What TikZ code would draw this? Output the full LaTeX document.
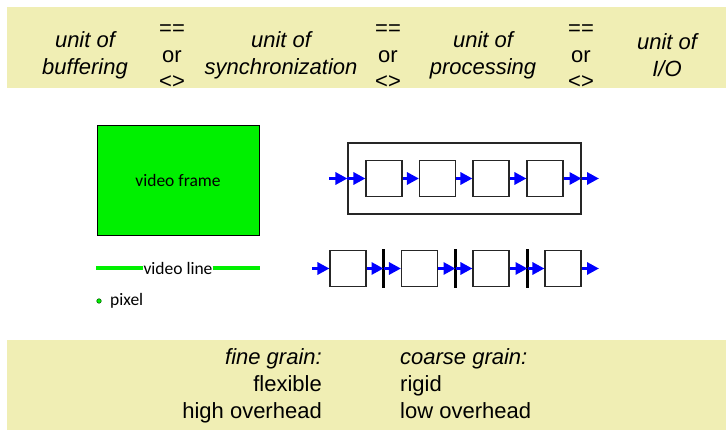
\documentclass[tikz,border=0pt]{standalone}
\usepackage{fontspec}
\setmainfont{Liberation Sans}
\newfontfamily\calfont{Carlito}
\usetikzlibrary{arrows.meta}
\definecolor{band}{RGB}{240,238,180}
\definecolor{vgreen}{RGB}{0,240,0}
\tikzset{
  bandtext/.style={font=\fontsize{22}{27}\selectfont\itshape, align=center, inner sep=0pt},
  optext/.style={font=\fontsize{22}{26.5}\selectfont, align=center, inner sep=0pt},
  lowtext/.style={font=\fontsize{22}{26}\selectfont, inner sep=0pt},
  smalltext/.style={font=\calfont\fontsize{17.5}{20}\selectfont, inner sep=0pt},
  sbox/.style={draw=black!85, line width=1.1pt, minimum width=36pt, minimum height=36pt, inner sep=0pt},
  arr/.style={blue, line width=3pt, -{Triangle[length=12pt,width=12pt]}},
  barline/.style={fill=black, inner sep=0pt, minimum width=3pt, minimum height=39pt},
  gline/.style={vgreen, line width=3.5pt}
}
\begin{document}
\begin{tikzpicture}[x=1pt,y=-1pt]
\useasboundingbox (0,0) rectangle (726,435);
% bands
\fill[band] (7,7) rectangle (726,88);
\fill[band] (7,340) rectangle (726,430);
% top texts
\node[bandtext] (t1) at (85,55.5) {unit of\\buffering};
\node[optext] (o1) at (172,57) {==\\or\\<>};
\node[bandtext] (t2) at (281,55.5) {unit of\\synchronization};
\node[optext] (o2) at (388,57) {==\\or\\<>};
\node[bandtext] (t3) at (483,55.5) {unit of\\processing};
\node[optext] (o3) at (581,57) {==\\or\\<>};
\node[bandtext] (t4) at (667,55.5) {unit of\\I/O};
% bottom texts
\node[lowtext, anchor=base east] (f1) at (322,365) {\itshape fine grain:};
\node[lowtext, anchor=base east] (f2) at (322,392) {flexible};
\node[lowtext, anchor=base east] (f3) at (322,418.5) {high overhead};
\node[lowtext, anchor=base west] (c1) at (400,365) {\itshape coarse grain:};
\node[lowtext, anchor=base west] (c2) at (400,392) {rigid};
\node[lowtext, anchor=base west] (c3) at (400,418.5) {low overhead};
% video frame
\node[draw=black, line width=0.8pt, fill=vgreen, minimum width=162pt, minimum height=110pt, smalltext] (vf) at (178,180) {video frame};
% video line
\node[smalltext] (vl) at (178,268) {video line};
\coordinate (vlL) at (96,268);
\coordinate (vlR) at (260,268);
\draw[gline] (vlL) -- (vl.west);
\draw[gline] (vl.east) -- (vlR);
% pixel
\node[circle, draw=green!40!black, fill=vgreen, line width=0.6pt, minimum size=4.5pt, inner sep=0pt] (px) at (99,301) {};
\node[smalltext, anchor=west] (pxl) at (110,301) {pixel};
% coarse-grained pipeline
\node[draw=black!85, line width=1.1pt, minimum width=233pt, minimum height=71pt, inner sep=0pt] (ob) at (464.5,178.5) {};
\node[sbox] (a1) at (384,178.5) {};
\node[sbox] (a2) at (437.5,178.5) {};
\node[sbox] (a3) at (491,178.5) {};
\node[sbox] (a4) at (545,178.5) {};
\coordinate (ainL) at (329,178.5);
\coordinate (aoutR) at (599,178.5);
\draw[arr] (ainL) -- (ob.west);
\draw[arr] (ob.west) -- (a1.west);
\draw[arr] (a1.east) -- (a2.west);
\draw[arr] (a2.east) -- (a3.west);
\draw[arr] (a3.east) -- (a4.west);
\draw[arr] (a4.east) -- (ob.east);
\draw[arr] (ob.east) -- (aoutR);
% fine-grained pipeline
\node[sbox] (b1) at (348,268.5) {};
\node[sbox] (b2) at (419.5,268.5) {};
\node[sbox] (b3) at (491,268.5) {};
\node[sbox] (b4) at (563,268.5) {};
\node[barline] (s1) at (383.5,268.5) {};
\node[barline] (s2) at (455.5,268.5) {};
\node[barline] (s3) at (527.5,268.5) {};
\coordinate (binL) at (312,268.5);
\coordinate (boutR) at (599,268.5);
\draw[arr] (binL) -- (b1.west);
\draw[arr] (b1.east) -- (s1.center);
\draw[arr] (s1.center) -- (b2.west);
\draw[arr] (b2.east) -- (s2.center);
\draw[arr] (s2.center) -- (b3.west);
\draw[arr] (b3.east) -- (s3.center);
\draw[arr] (s3.center) -- (b4.west);
\draw[arr] (b4.east) -- (boutR);
\end{tikzpicture}
\end{document}
